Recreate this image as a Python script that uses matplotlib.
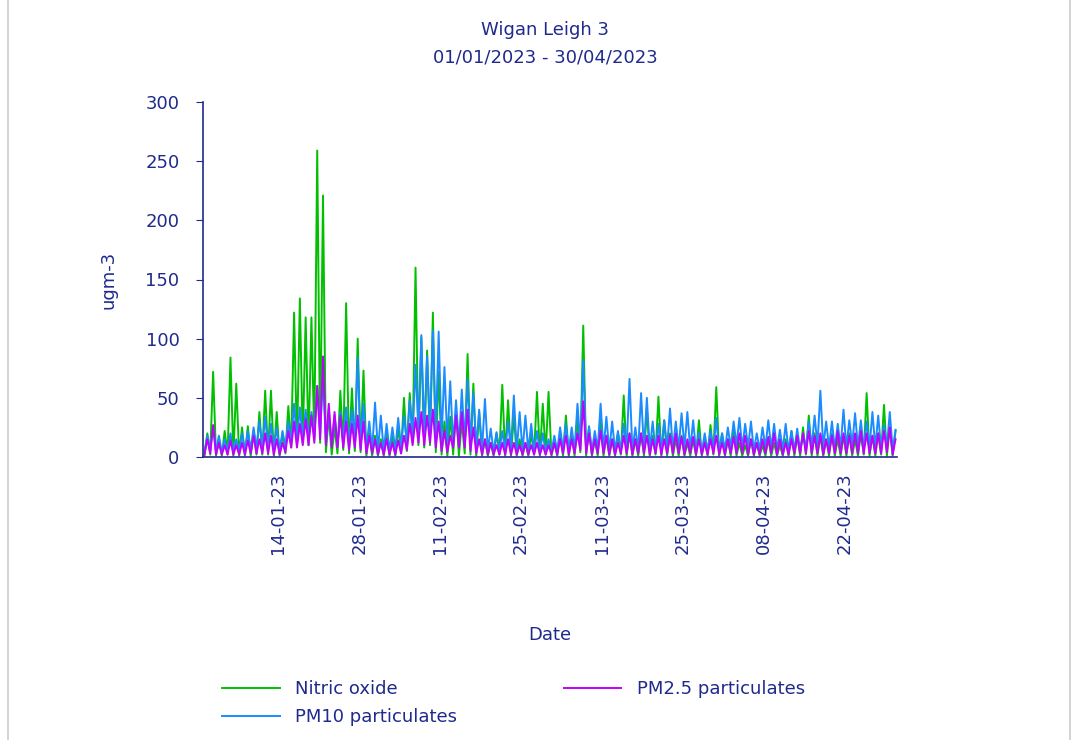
#####################################################################
# Importing packages

import matplotlib
matplotlib.use('Agg')
import matplotlib.pyplot as plt
import matplotlib.dates as mdates
import numpy
from matplotlib.patches import Rectangle

plt.rcParams['font.family'] = ['DejaVu Sans']

#####################################################################
# Data (daily low / daily peak, ugm-3)

start = numpy.datetime64('2023-01-01T00:00')

no_peak = [20, 72, 15, 22, 84, 62, 25, 26, 22, 38,
           56, 56, 38, 20, 43, 122, 134, 118, 118, 259,
           221, 35, 25, 56, 130, 58, 100, 73, 20, 18,
           15, 20, 18, 25, 50, 54, 160, 101, 90, 122,
           72, 30, 34, 40, 30, 87, 62, 38, 15, 12,
           20, 61, 48, 35, 15, 12, 20, 55, 45, 55,
           12, 20, 35, 20, 32, 111, 25, 15, 34, 18,
           15, 20, 52, 20, 15, 20, 41, 18, 51, 31,
           20, 15, 18, 12, 15, 31, 15, 27, 59, 20,
           15, 23, 12, 10, 15, 12, 10, 15, 12, 10,
           15, 22, 18, 25, 35, 20, 18, 15, 20, 15,
           18, 20, 15, 20, 54, 18, 20, 44, 25, 22]
no_low = [1, 2, 1, 1, 2, 1, 1, 1, 1, 2,
          2, 2, 1, 1, 3, 8, 10, 12, 10, 15,
          12, 4, 2, 3, 6, 3, 5, 4, 1, 1,
          1, 1, 1, 1, 3, 5, 12, 10, 8, 10,
          4, 2, 1, 2, 1, 3, 2, 1, 1, 1,
          1, 2, 1, 1, 1, 1, 1, 2, 1, 2,
          1, 1, 1, 1, 1, 4, 1, 1, 1, 1,
          1, 1, 2, 1, 1, 1, 1, 1, 2, 1,
          1, 1, 1, 1, 1, 1, 1, 1, 2, 1,
          1, 1, 1, 1, 1, 1, 1, 1, 1, 1,
          1, 1, 1, 1, 2, 1, 1, 1, 1, 1,
          1, 1, 1, 1, 2, 1, 1, 2, 1, 1]

pm10_peak = [18, 25, 18, 15, 20, 15, 20, 22, 25, 30,
             34, 28, 25, 22, 30, 45, 42, 40, 38, 60,
             68, 40, 35, 38, 42, 40, 84, 45, 30, 46,
             35, 28, 25, 33, 35, 48, 78, 103, 85, 107,
             106, 76, 64, 48, 57, 66, 54, 40, 49, 24,
             21, 22, 30, 52, 38, 35, 28, 22, 20, 15,
             18, 25, 28, 25, 45, 82, 26, 22, 45, 34,
             30, 22, 28, 66, 25, 54, 50, 30, 28, 31,
             41, 30, 37, 38, 31, 21, 20, 22, 33, 20,
             25, 30, 33, 28, 30, 20, 25, 31, 28, 23,
             28, 22, 24, 20, 30, 35, 56, 30, 30, 28,
             40, 31, 37, 31, 30, 38, 35, 27, 38, 23]
pm10_low = [5, 6, 5, 4, 5, 4, 5, 5, 6, 7,
            8, 7, 6, 5, 8, 12, 14, 15, 14, 18,
            20, 12, 10, 10, 12, 10, 15, 10, 6, 6,
            5, 5, 5, 6, 8, 12, 18, 22, 20, 22,
            18, 14, 12, 10, 10, 12, 10, 8, 6, 5,
            4, 5, 5, 6, 5, 5, 5, 4, 4, 4,
            4, 5, 6, 5, 6, 10, 5, 5, 6, 6,
            5, 5, 5, 8, 5, 6, 6, 5, 5, 6,
            8, 6, 7, 8, 6, 5, 4, 5, 6, 5,
            6, 8, 10, 8, 8, 5, 6, 8, 7, 6,
            6, 5, 6, 5, 7, 8, 10, 8, 8, 7,
            8, 8, 10, 8, 7, 8, 8, 7, 8, 6]

pm25_peak = [15, 27, 12, 10, 14, 10, 12, 14, 18, 15,
             20, 18, 15, 12, 22, 30, 28, 32, 35, 60,
             85, 45, 38, 35, 30, 28, 35, 30, 18, 15,
             12, 15, 12, 14, 18, 28, 33, 38, 35, 40,
             30, 22, 18, 35, 38, 40, 25, 15, 15, 12,
             10, 12, 15, 12, 10, 12, 10, 12, 10, 10,
             12, 15, 18, 15, 20, 47, 20, 15, 22, 18,
             15, 12, 18, 20, 15, 20, 18, 15, 18, 15,
             18, 20, 17, 15, 17, 15, 12, 15, 18, 12,
             15, 17, 20, 18, 15, 12, 15, 17, 20, 15,
             12, 15, 18, 20, 22, 18, 20, 15, 18, 22,
             20, 18, 20, 22, 20, 18, 20, 22, 25, 15]
pm25_low = [2, 3, 2, 2, 2, 2, 2, 2, 3, 3,
            3, 3, 2, 2, 4, 8, 8, 10, 10, 12,
            15, 10, 8, 8, 8, 6, 8, 6, 3, 3,
            2, 2, 2, 2, 3, 6, 10, 12, 10, 12,
            8, 5, 4, 8, 8, 8, 5, 3, 2, 2,
            2, 2, 2, 2, 2, 2, 2, 2, 2, 2,
            2, 2, 3, 2, 3, 6, 3, 2, 3, 3,
            2, 2, 3, 3, 2, 3, 3, 2, 3, 2,
            3, 3, 3, 2, 3, 2, 2, 2, 3, 2,
            2, 3, 3, 3, 2, 2, 2, 3, 3, 2,
            2, 2, 3, 3, 3, 3, 3, 2, 3, 3,
            3, 3, 3, 3, 3, 3, 3, 3, 4, 2]

tick_dates = ['2023-01-14', '2023-01-28', '2023-02-11', '2023-02-25',
              '2023-03-11', '2023-03-25', '2023-04-08', '2023-04-22']

#####################################################################
# Build time axis: low and peak of each day interleaved

n_days = len(no_peak)
hours = []
for d in range(n_days):
    hours.append(d * 24 + 6)
    hours.append(d * 24 + 18)
t = start + numpy.array(hours).astype('timedelta64[h]')


def interleave(low, peak):
    out = []
    for lo, pk in zip(low, peak):
        out.append(lo)
        out.append(pk)
    return out


navy = '#1f2a8c'
fs = 13

#####################################################################
# Plotting the data

fig = plt.figure(figsize=(10.79, 7.40), dpi=100)
fig.patches.append(Rectangle((8 / 1079, -0.01), 1062 / 1079, 1.02,
                             transform=fig.transFigure, fill=False,
                             edgecolor='#cccccc', linewidth=1.2))

ax = fig.add_axes([203 / 1079, 1 - 457 / 740, 694 / 1079, 355 / 740])

ax.plot(t, interleave(no_low, no_peak), color='#00c000', lw=1.4,
        label='Nitric oxide')
ax.plot(t, interleave(pm10_low, pm10_peak), color='#1a8cff', lw=1.4,
        label='PM10 particulates')
ax.plot(t, interleave(pm25_low, pm25_peak), color='#c000ff', lw=1.4,
        label='PM2.5 particulates')

ax.set_xlim(numpy.datetime64('2023-01-01'), numpy.datetime64('2023-05-01'))
ax.set_ylim(0, 300)
ax.set_yticks([0, 50, 100, 150, 200, 250, 300])

ax.set_xticks([numpy.datetime64(s) for s in tick_dates])
ax.xaxis.set_major_formatter(mdates.DateFormatter('%d-%m-%y'))
plt.setp(ax.get_xticklabels(), rotation=90)

for s in ['top', 'right']:
    ax.spines[s].set_visible(False)
for s in ['left', 'bottom']:
    ax.spines[s].set_color(navy)
    ax.spines[s].set_linewidth(1.2)

ax.tick_params(axis='y', colors=navy, labelsize=fs, length=5, direction='out', pad=12)
ax.tick_params(axis='x', colors=navy, labelsize=fs, length=0, pad=11)

ax.set_ylabel('ugm-3', color=navy, fontsize=fs, labelpad=20)
ax.set_xlabel('Date', color=navy, fontsize=fs, labelpad=52)

fig.text(0.505, 1 - 30 / 740, 'Wigan Leigh 3', color=navy, fontsize=fs,
         ha='center', va='center')
fig.text(0.505, 1 - 58 / 740, '01/01/2023 - 30/04/2023', color=navy, fontsize=fs,
         ha='center', va='center')

fig.legend(loc='upper left', bbox_to_anchor=(222 / 1079, 1 - 680 / 740),
           ncol=2, frameon=False, fontsize=fs, labelcolor=navy,
           handlelength=3.2, handletextpad=0.85, columnspacing=5.9,
           labelspacing=0.55, borderpad=0, borderaxespad=0)

plt.savefig('out.png', dpi=100)
